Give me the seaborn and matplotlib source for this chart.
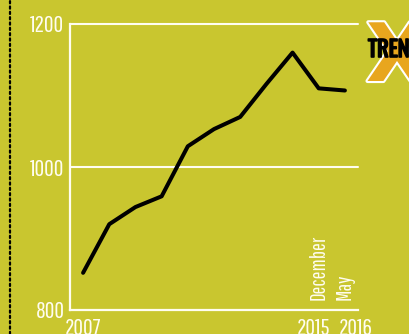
import matplotlib
matplotlib.use("Agg")
import matplotlib.pyplot as plt
import matplotlib.patheffects as pe
from matplotlib.lines import Line2D
from matplotlib.transforms import blended_transform_factory, offset_copy
import seaborn as sns
import pandas as pd

# ---- data ----
periods = ["2007", "2008", "2009", "2010", "2011", "2012", "2013", "2014",
           "2015", "Dec 2015", "May 2016"]
values = [852, 920, 944, 959, 1029, 1053, 1070, 1116, 1160, 1110, 1107]
y_ticks = [800, 1000, 1200]
year_labels = {"2007": 0, "2015": 9, "2016": 10}
month_labels = {"December": 9, "May": 10}

BG = "#c9c62f"
FG = "#fffdf0"
FONT = ["Pathway Gothic One", "Oswald", "DejaVu Sans"]
BOLD = ["Oswald", "DejaVu Sans"]

sns.set_theme(style="white")
plt.rcParams["font.family"] = FONT

W, H = 409, 334
fig = plt.figure(figsize=(W / 100, H / 100), dpi=100, facecolor=BG)
ax = fig.add_axes([70 / W, 24 / H, (358 - 70) / W, (310 - 24) / H])
ax.set_facecolor(BG)

df = pd.DataFrame({"period": periods, "value": values})
df["pos"] = range(len(periods))
sns.lineplot(data=df, x="pos", y="value", ax=ax, color="black", linewidth=2.9,
             solid_capstyle="round", solid_joinstyle="round", zorder=5)

ax.set_xlim(-0.5, len(periods) - 0.5)
ax.set_ylim(y_ticks[0], y_ticks[-1])
ax.set_xlabel("")
ax.set_ylabel("")

# gridlines
for v in y_ticks[1:]:
    ax.axhline(v, color=FG, lw=1.5, zorder=2, clip_on=False)

for s in ["top", "right"]:
    ax.spines[s].set_visible(False)
for s in ["left", "bottom"]:
    ax.spines[s].set_color(FG)
    ax.spines[s].set_linewidth(1.6)
    ax.spines[s].set_capstyle("projecting")

ax.set_yticks(y_ticks)
ax.set_yticklabels([str(v) for v in y_ticks])
ax.tick_params(axis="y", length=0, pad=4, labelsize=17, labelcolor=FG)

ax.set_xticks([])
ax.set_xticks([p + 0.5 for p in range(len(periods))], minor=True)
ax.tick_params(axis="x", which="minor", direction="in", length=6.5, width=1.5,
               color=FG, labelbottom=False)

trans = blended_transform_factory(ax.transData, ax.transAxes)
offsets = {"2007": 0, "2015": -5, "2016": 11}
for lab, pos in year_labels.items():
    t = offset_copy(trans, fig=fig, x=offsets[lab], y=-8, units="dots")
    ax.text(pos, 0, lab, transform=t, ha="center", va="top", color=FG,
            fontsize=17, clip_on=False)
for lab, pos in month_labels.items():
    t = offset_copy(trans, fig=fig, x=0, y=10, units="dots")
    ax.text(pos, 0, lab, transform=t, ha="center", va="bottom", rotation=90,
            color=FG, fontsize=15, clip_on=False)

# dotted rule on the left
fig.add_artist(Line2D([10 / W, 10 / W], [0, 1], transform=fig.transFigure,
                      color="black", lw=1.6, ls=(0, (1, 1.4)),
                      dash_capstyle="round"))

# logo
fig.text(366 / W, 1 - 81 / H, "X", ha="left", va="baseline", fontsize=58,
         family=["DejaVu Sans"], fontweight="bold", color="#e8a61e",
         path_effects=[pe.Stroke(linewidth=3, foreground="white"), pe.Normal()])
fig.text(368 / W, 1 - 57 / H, "TRENDS", ha="left", va="baseline", fontsize=16,
         family=BOLD, color="black",
         path_effects=[pe.withStroke(linewidth=1.2, foreground="black")])

fig.savefig("out.png", dpi=100, facecolor=BG)
